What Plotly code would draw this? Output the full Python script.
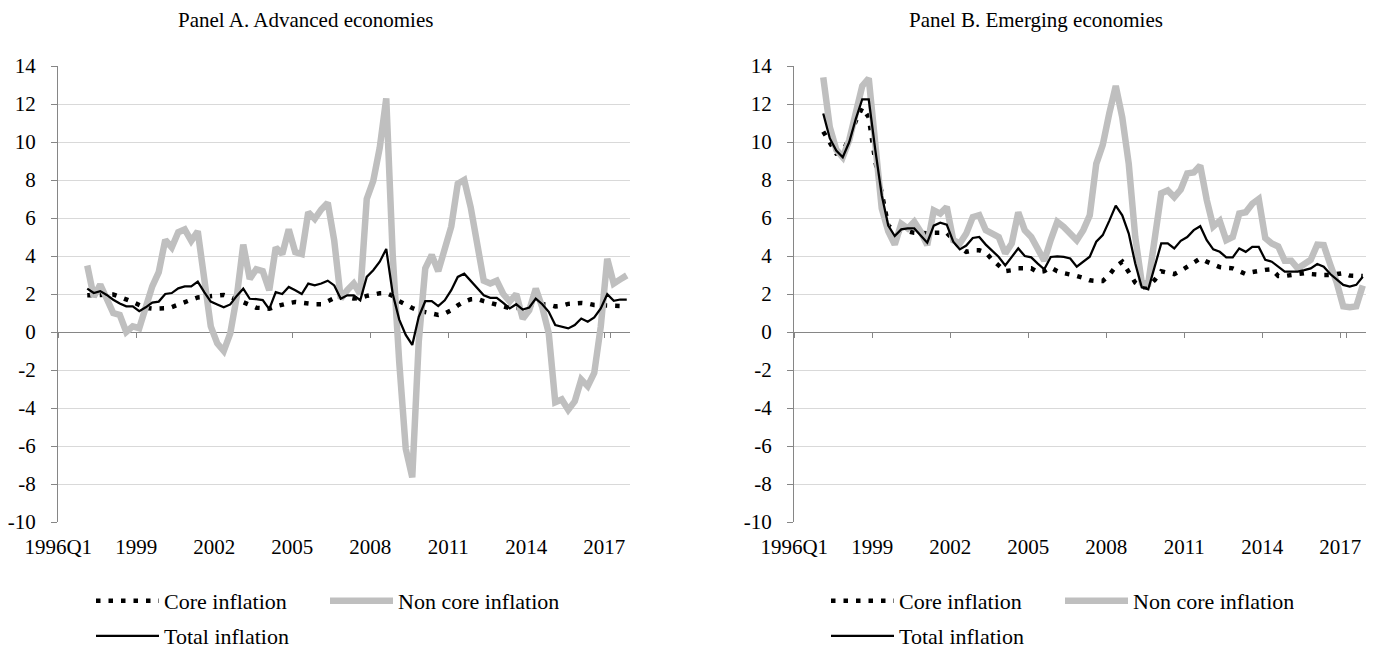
import plotly.graph_objects as go

# ---------------- data ----------------
quarters = [f"{y}Q{q}" for y in range(1996, 2018) for q in range(1, 5)]
data_quarters = quarters[4:]            # series start in 1997Q1
tick_quarters = quarters[::12]
tick_labels = ["1996Q1", "1999", "2002", "2005", "2008", "2011", "2014", "2017"]
y_ticks = list(range(-10, 16, 2))
y_tick_labels = [str(v) for v in y_ticks]

adv_core = [1.93, 1.93, 1.94, 1.98, 1.97, 1.85, 1.73, 1.58, 1.42, 1.27,
            1.23, 1.22, 1.25, 1.31, 1.42, 1.55, 1.70, 1.82, 1.86, 1.90,
            1.94, 1.95, 1.85, 1.70, 1.52, 1.40, 1.28, 1.26, 1.22, 1.35,
            1.46, 1.52, 1.58, 1.52, 1.46, 1.46, 1.46, 1.62, 1.78, 1.86,
            1.84, 1.76, 1.80, 1.90, 1.98, 2.04, 2.05, 1.90, 1.62, 1.41,
            1.26, 1.12, 1.04, 0.95, 0.90, 0.98, 1.15, 1.40, 1.60, 1.72,
            1.74, 1.62, 1.54, 1.48, 1.38, 1.26, 1.26, 1.30, 1.40, 1.47,
            1.46, 1.44, 1.35, 1.38, 1.48, 1.52, 1.53, 1.50, 1.42, 1.41,
            1.41, 1.39, 1.37, 1.36]
adv_noncore = [3.50, 1.85, 2.50, 1.80, 1.00, 0.90, 0.00, 0.30, 0.20, 1.30,
               2.40, 3.15, 4.85, 4.45, 5.25, 5.40, 4.80, 5.30, 3.05, 0.30,
               -0.60, -1.00, -0.07, 1.85, 4.60, 2.80, 3.30, 3.20, 2.20, 4.45,
               4.10, 5.40, 4.20, 4.10, 6.30, 5.95, 6.45, 6.80, 4.80, 1.75,
               2.20, 2.55, 2.00, 7.00, 7.95, 9.70, 12.30, 4.00, -1.60, -6.15,
               -7.65, -0.50, 3.35, 4.05, 3.20, 4.30, 5.55, 7.80, 8.00, 6.55,
               4.80, 2.70, 2.55, 2.70, 2.00, 1.60, 2.00, 0.70, 1.15, 2.28,
               1.30, -0.07, -3.70, -3.55, -4.10, -3.65, -2.50, -2.85, -2.15, 0.28,
               3.85, 2.55, 2.77, 2.98]
adv_total = [2.28, 2.05, 2.15, 1.95, 1.70, 1.50, 1.35, 1.35, 1.10, 1.30,
             1.55, 1.60, 2.00, 2.05, 2.30, 2.40, 2.40, 2.65, 2.10, 1.60,
             1.45, 1.30, 1.45, 1.90, 2.28, 1.75, 1.73, 1.68, 1.20, 2.10,
             2.00, 2.37, 2.20, 2.00, 2.55, 2.45, 2.55, 2.70, 2.45, 1.75,
             1.93, 1.93, 1.67, 2.90, 3.25, 3.70, 4.37, 2.00, 0.65, -0.15,
             -0.68, 0.80, 1.62, 1.62, 1.36, 1.67, 2.20, 2.90, 3.07, 2.70,
             2.28, 1.93, 1.80, 1.80, 1.53, 1.24, 1.46, 1.18, 1.29, 1.76,
             1.46, 1.06, 0.37, 0.28, 0.19, 0.37, 0.71, 0.54, 0.77, 1.24,
             1.99, 1.64, 1.71, 1.71]

em_core = [10.55, 9.95, 9.40, 9.50, 10.20, 11.10, 11.80, 11.30, 9.00, 7.30,
           5.60, 5.35, 5.33, 5.30, 5.22, 5.20, 5.20, 5.22, 5.22, 5.22,
           4.85, 4.45, 4.22, 4.30, 4.30, 4.18, 3.80, 3.50, 3.20, 3.25,
           3.35, 3.35, 3.35, 3.15, 3.20, 3.40, 3.20, 3.10, 3.05, 2.95,
           2.85, 2.72, 2.69, 2.69, 3.00, 3.45, 3.70, 3.20, 2.60, 2.35,
           2.40, 2.74, 3.20, 3.12, 3.05, 3.22, 3.45, 3.70, 3.87, 3.70,
           3.55, 3.42, 3.38, 3.35, 3.20, 3.05, 3.15, 3.23, 3.27, 3.30,
           2.95, 2.95, 3.00, 3.05, 3.10, 3.05, 3.00, 3.00, 3.00, 3.05,
           3.10, 2.97, 2.95, 2.95]
em_noncore = [13.40, 10.80, 9.60, 9.20, 10.10, 11.70, 12.95, 13.35, 10.00, 6.50,
              5.30, 4.60, 5.70, 5.45, 5.80, 5.27, 4.57, 6.40, 6.23, 6.58,
              4.83, 4.66, 5.18, 6.05, 6.15, 5.36, 5.18, 5.00, 4.14, 4.66,
              6.30, 5.36, 5.00, 4.30, 3.75, 4.85, 5.80, 5.53, 5.18, 4.83,
              5.36, 6.14, 8.85, 9.85, 11.50, 12.95, 11.30, 8.85, 5.00, 2.60,
              2.55, 5.20, 7.30, 7.45, 7.10, 7.50, 8.35, 8.40, 8.76, 6.95,
              5.55, 5.85, 4.83, 5.00, 6.23, 6.30, 6.75, 7.00, 4.95, 4.66,
              4.50, 3.75, 3.75, 3.35, 3.60, 3.80, 4.60, 4.57, 3.55, 2.60,
              1.35, 1.30, 1.35, 2.45]
em_total = [11.50, 10.20, 9.55, 9.20, 10.00, 11.20, 12.25, 12.25, 9.60, 7.20,
            5.60, 5.05, 5.40, 5.45, 5.45, 5.10, 4.70, 5.60, 5.75, 5.65,
            4.75, 4.35, 4.55, 4.95, 5.00, 4.60, 4.25, 3.95, 3.50, 3.95,
            4.40, 4.00, 3.93, 3.60, 3.30, 3.95, 3.98, 3.95, 3.87, 3.44,
            3.70, 3.96, 4.75, 5.10, 5.85, 6.65, 6.14, 5.18, 3.60, 2.35,
            2.25, 3.50, 4.66, 4.66, 4.40, 4.80, 5.00, 5.36, 5.57, 4.83,
            4.35, 4.22, 3.93, 3.93, 4.40, 4.22, 4.48, 4.48, 3.80, 3.70,
            3.44, 3.18, 3.18, 3.18, 3.26, 3.35, 3.58, 3.44, 3.05, 2.74,
            2.48, 2.39, 2.48, 2.91]

titles = ["Panel A. Advanced economies", "Panel B. Emerging economies"]
series_names = ["Core inflation", "Non core inflation", "Total inflation"]

# ---------------- layout helpers ----------------
W, H = 1385, 653
OFF = 8   # page body margin in the browser
FONT = dict(family="Liberation Serif", size=21, color="#000000")
LEG_FONT = dict(family="Liberation Serif", size=22, color="#000000")
AXIS_GREY = "#868686"
GRID_GREY = "#D9D9D9"
NONCORE_GREY = "#BFBFBF"
Y_MIN, Y_MAX = -10, 14


def fx(p):
    return (p - OFF) / W


def fy(p):
    return 1 - (p - OFF) / H


y_dom = [fy(522), fy(66)]
zero_pos = y_dom[0] + (y_dom[1] - y_dom[0]) * (0 - Y_MIN) / (Y_MAX - Y_MIN)

panels = [
    dict(core=adv_core, non=adv_noncore, tot=adv_total, xd="x", xl="x3", yd="y",
         dom=[fx(58), fx(630)], leg=("legend", "legend2"), legx=fx(91), title_x=fx(305)),
    dict(core=em_core, non=em_noncore, tot=em_total, xd="x2", xl="x4", yd="y2",
         dom=[fx(794), fx(1366)], leg=("legend3", "legend4"), legx=fx(826), title_x=fx(1036)),
]

fig = go.Figure()

for p in panels:
    fig.add_trace(go.Scatter(
        x=data_quarters, y=p["core"], name=series_names[0], mode="lines",
        line=dict(color="#000000", width=4.5, dash="4.5px,8px"),
        xaxis=p["xd"], yaxis=p["yd"], legend=p["leg"][0], hoverinfo="skip"))
    fig.add_trace(go.Scatter(
        x=data_quarters, y=p["non"], name=series_names[1], mode="lines",
        line=dict(color=NONCORE_GREY, width=6.5),
        xaxis=p["xd"], yaxis=p["yd"], legend=p["leg"][0], hoverinfo="skip"))
    fig.add_trace(go.Scatter(
        x=data_quarters, y=p["tot"], name=series_names[2], mode="lines",
        line=dict(color="#000000", width=2.25),
        xaxis=p["xd"], yaxis=p["yd"], legend=p["leg"][1], hoverinfo="skip"))
    # carrier for the bottom label axis
    fig.add_trace(go.Scatter(
        x=quarters, y=[None] * len(quarters), mode="lines", showlegend=False,
        xaxis=p["xl"], yaxis=p["yd"], hoverinfo="skip"))

layout = dict(
    width=W, height=H,
    margin=dict(l=0, r=0, t=0, b=0, autoexpand=False),
    paper_bgcolor="white", plot_bgcolor="white",
    font=FONT,
    showlegend=True,
    annotations=[],
)

for k, p in enumerate(panels):
    xd_name = "xaxis" if p["xd"] == "x" else "xaxis" + p["xd"][1:]
    xl_name = "xaxis" + p["xl"][1:]
    yd_name = "yaxis" if p["yd"] == "y" else "yaxis" + p["yd"][1:]
    # data axis: drawn at y = 0 with tick marks on category boundaries
    layout[xd_name] = dict(
        domain=p["dom"], type="category", categoryorder="array", categoryarray=quarters,
        range=[-0.5, len(quarters) - 0.5], anchor="free", position=zero_pos,
        showline=True, linecolor=AXIS_GREY, linewidth=1,
        ticks="outside", ticklen=5, tickcolor=AXIS_GREY, tickwidth=1,
        tickson="boundaries", tickmode="array", tickvals=tick_quarters,
        showticklabels=False, showgrid=False, zeroline=False, layer="below traces",
        automargin=False, fixedrange=True)
    # label axis at the bottom
    layout[xl_name] = dict(
        overlaying=p["xd"], anchor=p["yd"], type="category", categoryorder="array",
        categoryarray=quarters, range=[-0.5, len(quarters) - 0.5],
        tickmode="array", tickvals=tick_quarters, ticktext=tick_labels,
        ticks="", showline=False, showgrid=False, zeroline=False,
        ticklabelstandoff=10, ticklabelshift=-3, tickfont=FONT,
        automargin=False, fixedrange=True)
    layout[yd_name] = dict(
        domain=y_dom, anchor=p["xd"], range=[Y_MIN, Y_MAX],
        tickmode="array", tickvals=y_ticks, ticktext=y_tick_labels,
        showgrid=True, gridcolor=GRID_GREY, gridwidth=1,
        showline=True, linecolor=AXIS_GREY, linewidth=1,
        ticks="outside", ticklen=6, tickcolor=AXIS_GREY,
        zeroline=False, layer="below traces", ticklabelstandoff=11,
        tickfont=FONT, automargin=False, fixedrange=True)
    leg_common = dict(orientation="h", xanchor="left", yanchor="middle",
                      itemwidth=63, entrywidth=156, font=LEG_FONT,
                      bgcolor="rgba(0,0,0,0)", borderwidth=0, traceorder="normal")
    layout[p["leg"][0]] = dict(leg_common, x=p["legx"], y=fy(601))
    layout[p["leg"][1]] = dict(leg_common, x=p["legx"], y=fy(636))
    layout["annotations"].append(dict(
        text=titles[k], xref="paper", yref="paper", x=p["title_x"], y=fy(20),
        xanchor="center", yanchor="middle", showarrow=False, font=FONT))

fig.update_layout(**layout)
fig.write_html("out.html")
